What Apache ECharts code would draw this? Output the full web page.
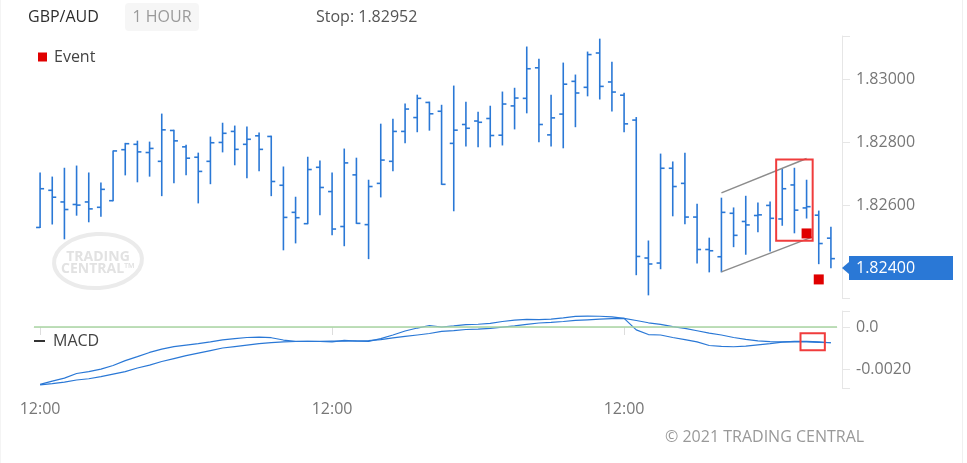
<!DOCTYPE html>
<html>
<head>
<meta charset="utf-8">
<script src="https://cdn.jsdelivr.net/npm/echarts@6/dist/echarts.min.js"></script>
<style>
html,body{margin:0;padding:0;background:#fff;}
#c{width:967px;height:463px;}
</style>
</head>
<body>
<div id="c"></div>
<script>
// ---------- data ----------
const categories = [
 '12:00','13:00','14:00','15:00','16:00','17:00','18:00','19:00','20:00','21:00','22:00','23:00',
 '00:00','01:00','02:00','03:00','04:00','05:00','06:00','07:00','08:00','09:00','10:00','11:00',
 '12:00','13:00','14:00','15:00','16:00','17:00','18:00','19:00','20:00','21:00','22:00','23:00',
 '00:00','01:00','02:00','03:00','04:00','05:00','06:00','07:00','08:00','09:00','10:00','11:00',
 '12:00','13:00','14:00','15:00','16:00','17:00','18:00','19:00','20:00','21:00','22:00','23:00',
 '00:00','01:00','02:00','03:00','04:00','05:00'];

const opens = [1.82529,1.82647,1.82610,1.82602,1.82610,1.82593,1.82614,1.82776,1.82793,1.82767,
 1.82739,1.82837,1.82785,1.82752,1.82739,1.82799,1.82834,1.82793,1.82820,1.82818,
 1.82663,1.82577,1.82541,1.82720,1.82643,1.82532,1.82696,1.82538,1.82669,1.82739,
 1.82834,1.82878,1.82926,1.82898,1.82796,1.82856,1.82867,1.82875,1.82822,1.82915,
 1.82939,1.83036,1.82823,1.82889,1.82993,1.82974,1.83083,1.82991,1.82949,1.82870,
 1.82432,1.82416,1.82717,1.82669,1.82562,1.82459,1.82436,1.82574,1.82548,1.82567,
 1.82599,1.82556,1.82664,1.82591,1.82568,1.82495];

const highs = [1.82702,1.82689,1.82717,1.82724,1.82702,1.82670,1.82772,1.82796,1.82803,1.82800,
 1.82889,1.82838,1.82790,1.82765,1.82816,1.82860,1.82851,1.82848,1.82829,1.82819,
 1.82721,1.82625,1.82752,1.82740,1.82702,1.82778,1.82749,1.82679,1.82857,1.82873,
 1.82921,1.82949,1.82927,1.82917,1.82978,1.82927,1.82895,1.82914,1.82959,1.82971,
 1.83102,1.83063,1.82949,1.83051,1.83013,1.83086,1.83127,1.83054,1.82955,1.82878,
 1.82486,1.82762,1.82737,1.82765,1.82603,1.82495,1.82622,1.82591,1.82628,1.82607,
 1.82610,1.82714,1.82717,1.82679,1.82581,1.82530];

const lows = [1.82529,1.82540,1.82493,1.82568,1.82547,1.82565,1.82614,1.82696,1.82674,1.82692,
 1.82630,1.82671,1.82696,1.82607,1.82668,1.82769,1.82728,1.82687,1.82709,1.82630,
 1.82458,1.82480,1.82541,1.82569,1.82506,1.82471,1.82542,1.82430,1.82626,1.82709,
 1.82798,1.82833,1.82838,1.82666,1.82582,1.82788,1.82785,1.82785,1.82791,1.82842,
 1.82893,1.82801,1.82788,1.82782,1.82849,1.82947,1.82937,1.82899,1.82833,1.82379,
 1.82315,1.82398,1.82566,1.82541,1.82416,1.82388,1.82388,1.82468,1.82444,1.82515,
 1.82454,1.82536,1.82512,1.82559,1.82414,1.82401];

const closes = [1.82652,1.82625,1.82586,1.82600,1.82588,1.82650,1.82772,1.82795,1.82769,1.82780,
 1.82839,1.82804,1.82749,1.82707,1.82798,1.82828,1.82777,1.82809,1.82777,1.82675,
 1.82561,1.82560,1.82713,1.82656,1.82524,1.82734,1.82542,1.82659,1.82743,1.82834,
 1.82905,1.82939,1.82890,1.82666,1.82838,1.82844,1.82863,1.82821,1.82921,1.82940,
 1.83033,1.82856,1.82877,1.82984,1.82956,1.83078,1.82977,1.82959,1.82858,1.82437,
 1.82413,1.82717,1.82659,1.82562,1.82459,1.82455,1.82577,1.82504,1.82537,1.82569,
 1.82558,1.82652,1.82584,1.82595,1.82478,1.82430];

const macd = [-0.00273,-0.00257,-0.00243,-0.00221,-0.00212,-0.00200,-0.00183,-0.00160,-0.00141,-0.00121,
 -0.00105,-0.00093,-0.00086,-0.00079,-0.00071,-0.00061,-0.00055,-0.00050,-0.00048,-0.00051,
 -0.00062,-0.00068,-0.00068,-0.00069,-0.00071,-0.00064,-0.00067,-0.00068,-0.00055,-0.00038,
 -0.00019,-0.00005,0.00007,0.00000,0.00005,0.00011,0.00013,0.00017,0.00026,0.00033,
 0.00036,0.00035,0.00037,0.00043,0.00050,0.00052,0.00051,0.00048,0.00041,-0.00014,
 -0.00036,-0.00038,-0.00050,-0.00060,-0.00071,-0.00088,-0.00092,-0.00094,-0.00091,-0.00085,
 -0.00079,-0.00072,-0.00068,-0.00068,-0.00071,-0.00075];

const signal = [-0.00275,-0.00269,-0.00262,-0.00252,-0.00246,-0.00236,-0.00224,-0.00212,-0.00195,-0.00181,
 -0.00164,-0.00150,-0.00136,-0.00124,-0.00112,-0.00100,-0.00093,-0.00086,-0.00079,-0.00074,
 -0.00071,-0.00069,-0.00068,-0.00068,-0.00067,-0.00067,-0.00066,-0.00065,-0.00060,-0.00052,
 -0.00045,-0.00038,-0.00031,-0.00021,-0.00017,-0.00012,-0.00010,-0.00007,-0.00001,0.00005,
 0.00012,0.00019,0.00022,0.00026,0.00031,0.00034,0.00037,0.00040,0.00041,0.00031,
 0.00020,0.00012,0.00002,-0.00007,-0.00018,-0.00029,-0.00038,-0.00050,-0.00059,-0.00066,
 -0.00070,-0.00071,-0.00070,-0.00071,-0.00073,-0.00075];

const events = [[63, 1.82510], [64, 1.82364]];
const priceTicks = [1.824, 1.826, 1.828, 1.830];
const macdTicks = [-0.002, 0];
const priceMin = 1.82305, priceMax = 1.83137;
const macdMin = -0.0029, macdMax = 0.00076;
const lastPrice = 1.824;
const stopText = 'Stop: 1.82952';
const boxBars = [61, 63], boxPrices = [1.82745, 1.82487];
const channelUpper = [[56, 1.82639], [63, 1.82748]];
const channelLower = [[56, 1.82388], [63.5, 1.82499]];
const macdBoxBars = [63, 64], macdBoxVals = [-0.0003, -0.0011];

// ---------- chart ----------
const BLUE = '#2a78d6';
const FONT = '"Open Sans"';
const chart = echarts.init(document.getElementById('c'), null, {renderer: 'canvas'});

const ohlcData = categories.map((_, i) => [i, opens[i], highs[i], lows[i], closes[i]]);

function renderOHLC(params, api) {
  const i = api.value(0);
  const o = api.coord([i, api.value(1)]);
  const h = api.coord([i, api.value(2)]);
  const l = api.coord([i, api.value(3)]);
  const c = api.coord([i, api.value(4)]);
  const x = h[0];
  const t = 4;
  const style = {stroke: BLUE, lineWidth: 1.6};
  return {type: 'group', children: [
    {type: 'line', shape: {x1: x, y1: h[1] - 0.5, x2: x, y2: l[1] + 0.5}, style},
    {type: 'line', shape: {x1: x - t, y1: o[1], x2: x, y2: o[1]}, style},
    {type: 'line', shape: {x1: x, y1: c[1], x2: x + t, y2: c[1]}, style}
  ]};
}

function pt(api, idx, val) {
  const base = Math.floor(idx);
  const p = api.coord([base, val]);
  const band = api.size([1, 0])[0];
  return [p[0] + (idx - base) * band, p[1]];
}

function renderPriceAnnot(params, api) {
  const band = api.size([1, 0])[0];
  const a = api.coord([boxBars[0], boxPrices[0]]);
  const b = api.coord([boxBars[1], boxPrices[1]]);
  const u1 = pt(api, channelUpper[0][0], channelUpper[0][1]);
  const u2 = pt(api, channelUpper[1][0], channelUpper[1][1]);
  const l1 = pt(api, channelLower[0][0], channelLower[0][1]);
  const l2 = pt(api, channelLower[1][0], channelLower[1][1]);
  const cs = params.coordSys;
  const ay = api.coord([0, lastPrice])[1];
  const ax = cs.x + cs.width + 5;
  return {type: 'group', children: [
    {type: 'line', shape: {x1: u1[0], y1: u1[1], x2: u2[0], y2: u2[1]}, style: {stroke: '#8c8c8c', lineWidth: 1.5}},
    {type: 'line', shape: {x1: l1[0], y1: l1[1], x2: l2[0], y2: l2[1]}, style: {stroke: '#8c8c8c', lineWidth: 1.5}},
    {type: 'rect', shape: {x: a[0] - band / 2, y: a[1], width: b[0] - a[0] + band, height: b[1] - a[1]},
      style: {fill: 'none', stroke: '#f03c3c', lineWidth: 2}},
    {type: 'polygon', shape: {points: [[ax, ay], [ax + 7, ay - 6], [ax + 7, ay + 6]]}, style: {fill: BLUE}}
  ]};
}

function renderMacdAnnot(params, api) {
  const band = api.size([1, 0])[0];
  const a = api.coord([macdBoxBars[0], macdBoxVals[0]]);
  const b = api.coord([macdBoxBars[1], macdBoxVals[1]]);
  return {type: 'rect', shape: {x: a[0] - band / 2, y: a[1], width: b[0] - a[0] + band, height: b[1] - a[1]},
    style: {fill: 'none', stroke: '#f03c3c', lineWidth: 2}};
}

const labelEvery = (i) => i % 24 === 0;

const option = {
  animation: false,
  textStyle: {fontFamily: FONT},
  grid: [
    {left: 34, width: 803, top: 36, height: 262},
    {left: 34, width: 803, top: 311, height: 77}
  ],
  legend: [
    {data: [{name: 'Event', icon: 'rect'}], left: 33, top: 44, itemWidth: 9, itemHeight: 9,
      selectedMode: false, textStyle: {color: '#444', fontSize: 16, fontFamily: FONT, padding: [0, 0, 0, 2]}},
    {data: [{name: 'MACD', icon: 'rect', itemStyle: {color: '#333'}}], left: 29, top: 328, itemWidth: 11, itemHeight: 2,
      selectedMode: false, textStyle: {color: '#444', fontSize: 16, fontFamily: FONT, padding: [0, 0, 0, 3]}}
  ],
  xAxis: [
    {type: 'category', gridIndex: 0, data: categories, boundaryGap: true, show: false},
    {type: 'category', gridIndex: 1, data: categories, boundaryGap: true,
      axisLine: {show: true, lineStyle: {color: '#eeeeee'}},
      axisTick: {show: true, interval: labelEvery, alignWithLabel: true, length: 8, lineStyle: {color: '#dddddd'}},
      axisLabel: {interval: labelEvery, color: '#777', fontSize: 16, margin: 13, fontFamily: FONT},
      splitLine: {show: false}}
  ],
  yAxis: [
    {type: 'value', gridIndex: 0, position: 'right', offset: 5, min: priceMin, max: priceMax,
      splitLine: {show: false},
      axisLine: {show: true, lineStyle: {color: '#e6e6e6'}},
      axisTick: {show: true, length: 8, lineStyle: {color: '#e6e6e6'},
        customValues: [priceMin].concat(priceTicks, [priceMax])},
      axisLabel: {customValues: priceTicks, margin: 7,
        formatter: (v) => Math.abs(v - lastPrice) < 1e-9 ? '{tag|' + v.toFixed(5) + '}' : '{n|' + v.toFixed(5) + '}',
        rich: {
          n: {color: '#777', fontSize: 16, fontFamily: FONT, backgroundColor: 'rgba(255,255,255,0)', padding: [4, 0, 4, 7], width: 97, lineHeight: 15},
          tag: {color: '#fff', backgroundColor: BLUE, fontSize: 16, fontFamily: FONT, padding: [4, 0, 4, 7], width: 97, lineHeight: 15}
        }}},
    {type: 'value', gridIndex: 1, position: 'right', offset: 5, min: macdMin, max: macdMax,
      splitLine: {show: false},
      axisLine: {show: true, lineStyle: {color: '#e6e6e6'}},
      axisTick: {show: true, length: 8, lineStyle: {color: '#e6e6e6'},
        customValues: [macdMin].concat(macdTicks, [macdMax])},
      axisLabel: {customValues: macdTicks, margin: 14, color: '#777', fontSize: 16, fontFamily: FONT,
        formatter: (v) => Math.abs(v) < 1e-12 ? '0.0' : v.toFixed(4)}}
  ],
  series: [
    {name: 'Price', type: 'custom', xAxisIndex: 0, yAxisIndex: 0, renderItem: renderOHLC,
      data: ohlcData, encode: {x: 0, y: [1, 2, 3, 4]}, clip: false, silent: true},
    {name: 'Annot', type: 'custom', xAxisIndex: 0, yAxisIndex: 0, renderItem: renderPriceAnnot,
      data: [[0, lastPrice]], encode: {x: 0, y: 1}, clip: false, silent: true, z: 5},
    {name: 'Event', type: 'scatter', xAxisIndex: 0, yAxisIndex: 0, data: events,
      symbol: 'rect', symbolSize: 10, itemStyle: {color: '#e00000', opacity: 1}, z: 6, silent: true},
    {name: 'MACD', type: 'line', xAxisIndex: 1, yAxisIndex: 1, data: macd, showSymbol: false,
      lineStyle: {color: BLUE, width: 1.2}, itemStyle: {color: BLUE}, smooth: false, silent: true,
      markLine: {silent: true, symbol: 'none', label: {show: false},
        lineStyle: {color: '#a8d5a2', width: 1.5, type: 'solid'}, data: [{yAxis: 0}]}},
    {name: 'Signal', type: 'line', xAxisIndex: 1, yAxisIndex: 1, data: signal, showSymbol: false,
      lineStyle: {color: BLUE, width: 1.2}, itemStyle: {color: BLUE}, silent: true},
    {name: 'MacdAnnot', type: 'custom', xAxisIndex: 1, yAxisIndex: 1, renderItem: renderMacdAnnot,
      data: [[0, 0]], encode: {x: 0, y: 1}, clip: false, silent: true, z: 5}
  ],
  graphic: [
    {type: 'rect', shape: {x: 125, y: 3, width: 74, height: 28, r: 4}, style: {fill: '#f6f6f6'}, silent: true},
    {type: 'text', x: 28, y: 17, style: {text: 'GBP/AUD', fill: '#2e2e2e', font: '16px ' + FONT, verticalAlign: 'middle', textVerticalAlign: 'middle'}},
    {type: 'text', x: 162, y: 17, style: {text: '1 HOUR', fill: '#9a9a9a', font: '16px ' + FONT, align: 'center', textAlign: 'center', verticalAlign: 'middle', textVerticalAlign: 'middle'}},
    {type: 'text', x: 316, y: 17, style: {text: stopText, fill: '#555', font: '16px ' + FONT, verticalAlign: 'middle', textVerticalAlign: 'middle'}},
    {type: 'ellipse', shape: {cx: 98, cy: 261, rx: 44, ry: 27}, rotation: 0.06, originX: 98, originY: 261,
      style: {fill: 'none', stroke: '#ebebeb', lineWidth: 4}, silent: true, z: -1},
    {type: 'text', x: 98, y: 257, style: {text: 'TRADING', fill: '#e2e2e2', font: 'bold 14px ' + FONT, align: 'center', textAlign: 'center', verticalAlign: 'middle', textVerticalAlign: 'middle'}, z: -1},
    {type: 'text', x: 98, y: 269, style: {text: 'CENTRAL\u2122', fill: '#e2e2e2', font: 'bold 14px ' + FONT, align: 'center', textAlign: 'center', verticalAlign: 'middle', textVerticalAlign: 'middle'}, z: -1},
    {type: 'text', x: 665, y: 437, style: {text: '\u00a9 2021 TRADING CENTRAL', fill: '#999', font: '16px ' + FONT, verticalAlign: 'middle', textVerticalAlign: 'middle'}},
    {type: 'line', shape: {x1: 962.5, y1: 0, x2: 962.5, y2: 463}, style: {stroke: '#f0f0f0', lineWidth: 1}},
    {type: 'line', shape: {x1: 0.5, y1: 0, x2: 0.5, y2: 463}, style: {stroke: '#f4f4f4', lineWidth: 1}}
  ]
};
chart.setOption(option);
</script>
</body>
</html>
